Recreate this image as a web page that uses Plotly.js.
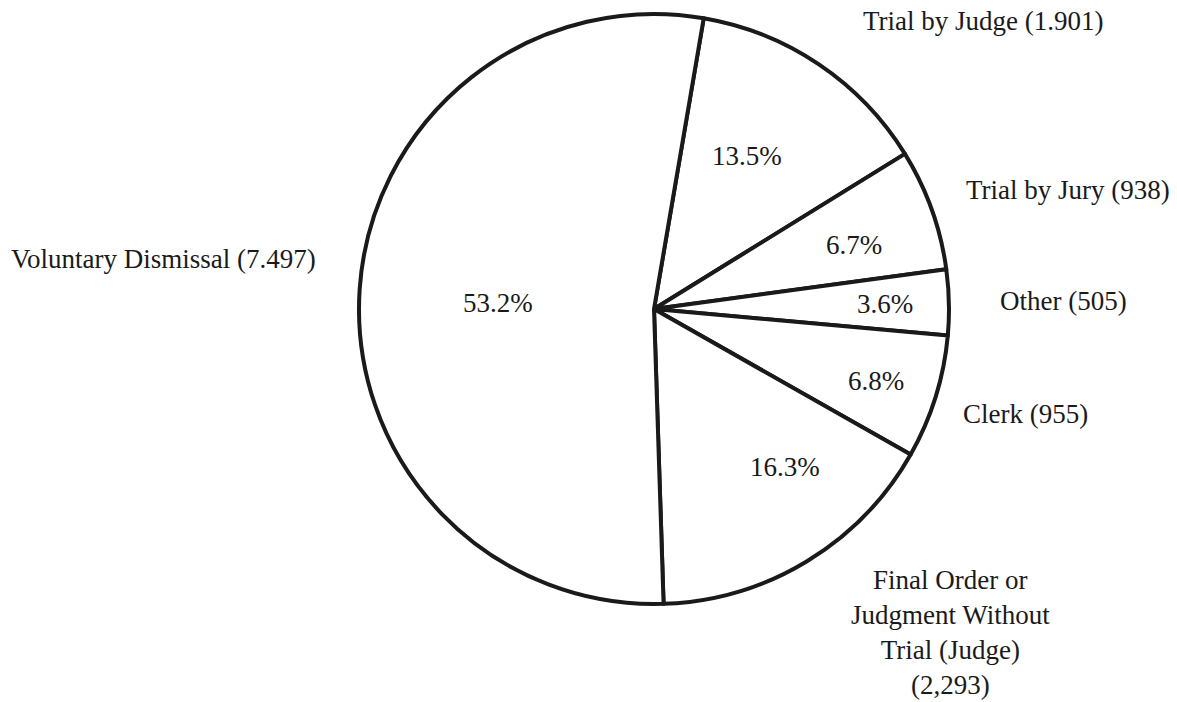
<!DOCTYPE html>
<html>
<head>
<meta charset="utf-8">
<script src="https://cdn.plot.ly/plotly-3.0.1.min.js"></script>
<style>html,body{margin:0;padding:0;background:#fff;}#chart{width:1177px;height:702px;}</style>
</head>
<body>
<div id="chart"></div>
<script>
// Data
var categories = ["Trial by Judge", "Trial by Jury", "Other", "Clerk",
  "Final Order or Judgment Without Trial (Judge)", "Voluntary Dismissal"];
var counts = [1901, 938, 505, 955, 2293, 7497];
var outsideLabels = ["Trial by Judge (1.901)", "Trial by Jury (938)", "Other (505)", "Clerk (955)",
  "Final Order or<br>Judgment Without<br>Trial (Judge)<br>(2,293)", "Voluntary Dismissal (7.497)"];

// Label placement (pixels in the 1177x702 figure)
var W = 1177, H = 702;
var labelPos = [[983, 21], [1068, 190], [1063, 301], [1025, 414], [950, 632], [163, 259]];
var pctPos = [[747, 156], [854, 245], [885, 304], [876, 381], [785, 467], [498, 303]];

var total = counts.reduce(function(a, b){ return a + b; }, 0);
var font = {family: "Liberation Serif, serif", size: 27, color: "#1a1a1a"};

var annotations = [];
for (var i = 0; i < categories.length; i++) {
  annotations.push({
    xref: "paper", yref: "paper",
    x: labelPos[i][0] / W, y: 1 - labelPos[i][1] / H,
    xanchor: "center", yanchor: "middle", align: "center",
    text: outsideLabels[i], showarrow: false, font: font
  });
  annotations.push({
    xref: "paper", yref: "paper",
    x: pctPos[i][0] / W, y: 1 - pctPos[i][1] / H,
    xanchor: "center", yanchor: "middle",
    text: (counts[i] / total * 100).toFixed(1) + "%", showarrow: false, font: font
  });
}

var cx = 654, cy = 309, r = 295;
var trace = {
  type: "pie",
  labels: categories,
  values: counts,
  sort: false,
  direction: "clockwise",
  rotation: 9.7,
  textinfo: "none",
  hoverinfo: "label+value+percent",
  marker: {colors: categories.map(function(){ return "#ffffff"; }),
           line: {color: "#1a1a1a", width: 4}},
  domain: {x: [(cx - r) / W, (cx + r) / W], y: [1 - (cy + r) / H, 1 - (cy - r) / H]},
  showlegend: false
};

var layout = {
  width: W, height: H,
  margin: {l: 0, r: 0, t: 0, b: 0},
  paper_bgcolor: "#ffffff",
  plot_bgcolor: "#ffffff",
  showlegend: false,
  annotations: annotations
};

Plotly.newPlot("chart", [trace], layout, {displayModeBar: false, staticPlot: true});
</script>
</body>
</html>
